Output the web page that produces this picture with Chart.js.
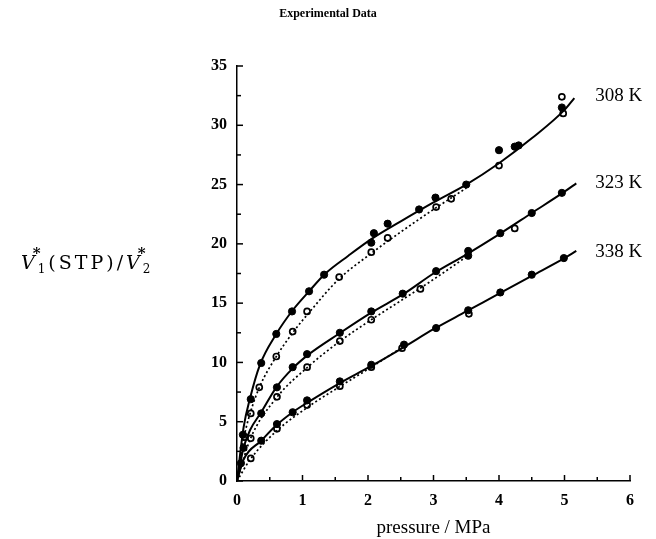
<!DOCTYPE html>
<html>
<head>
<meta charset="utf-8">
<script src="https://cdn.jsdelivr.net/npm/chart.js@4.4.1/dist/chart.umd.min.js"></script>
<style>
  html, body { margin: 0; padding: 0; background: #fff; }
  #wrap { width: 656px; height: 539px; }
</style>
</head>
<body>
<div id="wrap"><canvas id="chart" width="656" height="539"></canvas></div>
<script>
// measured points (filled = solid curve, open = dotted curve)
const p308f = [0.09, 0.21, 0.37, 0.6, 0.84, 1.1, 1.33, 2.05, 2.09, 2.3, 2.78, 3.03, 3.5, 4.0, 4.24, 4.3, 4.96];
const v308f = [3.9, 6.9, 9.95, 12.4, 14.3, 16.0, 17.4, 20.1, 20.9, 21.7, 22.9, 23.9, 25.0, 27.9, 28.2, 28.3, 31.5];
const p308o = [0.12, 0.21, 0.34, 0.6, 0.85, 1.07, 1.56, 2.05, 2.3, 3.04, 3.27, 4.0, 4.96, 4.98];
const v308o = [3.7, 5.7, 7.9, 10.5, 12.6, 14.3, 17.2, 19.3, 20.5, 23.1, 23.8, 26.6, 32.4, 31.0];

const p323f = [0.1, 0.37, 0.61, 0.85, 1.07, 1.57, 2.05, 2.53, 3.04, 3.53, 3.53, 4.02, 4.5, 4.96];
const v323f = [2.8, 5.7, 7.9, 9.6, 10.7, 12.5, 14.3, 15.8, 17.7, 19.0, 19.4, 20.9, 22.6, 24.3];
const p323o = [0.21, 0.61, 1.07, 1.57, 2.05, 2.8, 4.24];
const v323o = [3.6, 7.1, 9.6, 11.8, 13.6, 16.2, 21.3];

const p338f = [0.06, 0.37, 0.61, 0.85, 1.07, 1.57, 2.05, 2.55, 3.04, 3.53, 4.02, 4.5, 4.99];
const v338f = [1.5, 3.4, 4.8, 5.8, 6.8, 8.4, 9.8, 11.5, 12.9, 14.4, 15.9, 17.4, 18.8];
const p338o = [0.21, 0.61, 1.07, 1.57, 2.05, 2.52, 3.54];
const v338o = [1.9, 4.4, 6.4, 8.0, 9.6, 11.2, 14.1];

// fitted curves
const c308sP = [0, 0.1, 0.2, 0.35, 0.6, 0.85, 1.1, 1.35, 1.7, 2.05, 2.5, 3, 3.5, 4, 4.5, 5, 5.15];
const c308sV = [0, 4.5, 7, 9.8, 12.4, 14.4, 16, 17.5, 19, 20.4, 21.9, 23.5, 25, 26.8, 28.9, 31.3, 32.3];
const c308dP = [0, 0.1, 0.2, 0.35, 0.6, 0.85, 1.1, 1.55, 2.05, 2.5, 3, 3.5];
const c308dV = [0, 3.5, 5.7, 8, 10.5, 12.5, 14.2, 17, 19.2, 21, 22.9, 24.7];

const c323sP = [0, 0.1, 0.2, 0.37, 0.6, 0.85, 1.1, 1.55, 2.05, 2.55, 3, 3.5, 4, 4.5, 5, 5.18];
const c323sV = [0, 2.8, 4.3, 5.8, 7.9, 9.5, 10.7, 12.4, 14.2, 15.8, 17.5, 19.1, 20.8, 22.6, 24.4, 25.1];
const c323dP = [0, 0.2, 0.6, 1.1, 1.55, 2.05, 2.5, 3, 3.5];
const c323dV = [0, 3.5, 7.0, 9.7, 11.7, 13.6, 15.2, 17, 18.9];

const c338sP = [0, 0.1, 0.37, 0.6, 0.85, 1.1, 1.55, 2.05, 2.55, 3, 3.5, 4, 4.5, 5, 5.18];
const c338sV = [0, 1.8, 3.4, 4.7, 5.8, 6.7, 8.2, 9.7, 11.3, 12.8, 14.3, 15.8, 17.3, 18.8, 19.4];
const c338dP = [0, 0.2, 0.6, 1.1, 1.55, 2.05, 2.5];
const c338dV = [0, 1.8, 4.2, 6.3, 7.9, 9.6, 11.2];

const tempLabels = ['308 K', '323 K', '338 K'];
const labelY = [32.5, 25.1, 19.3];
const labelX = 5.47;

const xTicks = [0, 1, 2, 3, 4, 5, 6];
const yTicks = [0, 5, 10, 15, 20, 25, 30, 35];

const pts = (xs, ys) => xs.map((x, i) => ({ x: x, y: ys[i] }));

function curve(xs, ys, dashed) {
  return {
    type: 'line', data: pts(xs, ys), showLine: true, pointRadius: 0,
    borderColor: '#000', borderWidth: dashed ? 1.7 : 2,
    borderDash: dashed ? [2, 2.5] : [], tension: 0.4, cubicInterpolationMode: 'monotone'
  };
}
function marks(xs, ys, open) {
  return {
    type: 'scatter', data: pts(xs, ys), showLine: false,
    pointRadius: open ? 3 : 3.6, pointBorderWidth: open ? 1.7 : 1,
    pointBackgroundColor: open ? '#fff' : '#000', pointBorderColor: '#000'
  };
}

const serif = '"Liberation Serif", "Times New Roman", serif';

const extras = {
  id: 'extras',
  afterDraw(chart) {
    const ctx = chart.ctx;
    const xs = chart.scales.x, ys = chart.scales.y;
    const x0 = xs.left, y0 = ys.bottom;
    ctx.save();
    ctx.strokeStyle = '#000';
    ctx.lineWidth = 1.5;
    // inward ticks
    for (let v = 0; v <= 35; v += 2.5) {
      const y = ys.getPixelForValue(v);
      const len = v % 5 === 0 ? 6 : 4;
      ctx.beginPath(); ctx.moveTo(x0, y); ctx.lineTo(x0 + len, y); ctx.stroke();
    }
    for (let v = 0; v <= 6; v += 0.5) {
      const x = xs.getPixelForValue(v);
      const len = v % 1 === 0 ? 6 : 4;
      ctx.beginPath(); ctx.moveTo(x, y0); ctx.lineTo(x, y0 - len); ctx.stroke();
    }
    // temperature labels
    ctx.fillStyle = '#000';
    ctx.font = '19px ' + serif;
    ctx.textBaseline = 'middle';
    ctx.textAlign = 'left';
    tempLabels.forEach((t, i) => {
      ctx.fillText(t, xs.getPixelForValue(labelX), ys.getPixelForValue(labelY[i]));
    });
    // title
    ctx.font = 'bold 12px ' + serif;
    ctx.textAlign = 'center';
    ctx.fillText('Experimental Data', 328, 14);
    // y label V1*(STP)/V2*
    const lf = '"DejaVu Serif", serif';
    let x = 21;
    const yb = 269;
    ctx.textAlign = 'left';
    ctx.textBaseline = 'alphabetic';
    ctx.letterSpacing = '3px';
    const part = (txt, font, dy) => {
      ctx.font = font;
      ctx.fillText(txt, x, yb + dy);
      x += ctx.measureText(txt).width;
    };
    part('V', 'italic 19px ' + lf, 0);
    ctx.font = 'bold 15px ' + lf;
    ctx.fillText('*', x - 5, yb - 11);
    part('1', '12px ' + lf, 4);
    part('(STP)/', '19px ' + lf, 0);
    part('V', 'italic 19px ' + lf, 0);
    ctx.font = 'bold 15px ' + lf;
    ctx.fillText('*', x - 5, yb - 11);
    part('2', '12px ' + lf, 4);
    ctx.restore();
  }
};

new Chart(document.getElementById('chart'), {
  type: 'scatter',
  data: {
    datasets: [
      curve(c308sP, c308sV, false), curve(c308dP, c308dV, true),
      curve(c323sP, c323sV, false), curve(c323dP, c323dV, true),
      curve(c338sP, c338sV, false), curve(c338dP, c338dV, true),
      marks(p308f, v308f, false), marks(p308o, v308o, true),
      marks(p323f, v323f, false), marks(p323o, v323o, true),
      marks(p338f, v338f, false), marks(p338o, v338o, true)
    ]
  },
  options: {
    responsive: false,
    animation: false,
    layout: { padding: { left: 0, right: 26, top: 66, bottom: 0 } },
    plugins: { legend: { display: false }, tooltip: { enabled: false }, title: { display: false } },
    scales: {
      x: {
        type: 'linear', min: 0, max: 6,
        afterBuildTicks: s => { s.ticks = xTicks.map(v => ({ value: v })); },
        afterFit: s => { s.height = 58; },
        grid: { display: false, drawTicks: false },
        border: { display: true, color: '#000', width: 1.5 },
        ticks: { color: '#000', padding: 10, font: { family: serif, size: 16, weight: 'bold' } },
        title: { display: true, text: 'pressure / MPa', color: '#000',
                 font: { family: serif, size: 19 }, padding: { top: 2, bottom: 0 } }
      },
      y: {
        type: 'linear', min: 0, max: 35,
        afterBuildTicks: s => { s.ticks = yTicks.map(v => ({ value: v })); },
        afterFit: s => { s.width = 237; },
        grid: { display: false, drawTicks: false },
        border: { display: true, color: '#000', width: 1.5 },
        ticks: { color: '#000', padding: 10, font: { family: serif, size: 16, weight: 'bold' } }
      }
    }
  },
  plugins: [extras]
});
</script>
</body>
</html>
